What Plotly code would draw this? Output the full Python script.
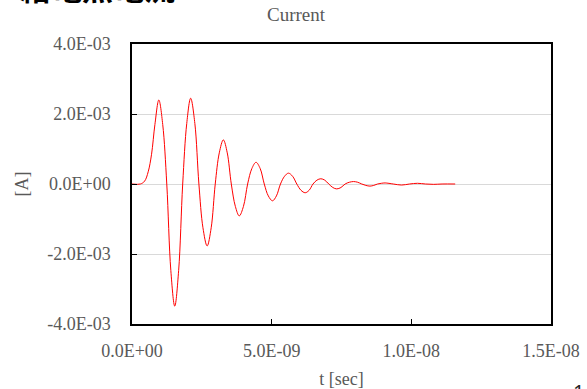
import plotly.graph_objects as go

# Feed-point current waveform (time in ns, current in mA)
t_ns = [0.00, 0.30, 0.45, 0.58, 0.70, 0.82, 0.96,
        1.10, 1.245, 1.39, 1.53,
        1.67, 1.815, 1.96, 2.10,
        2.25, 2.395, 2.54, 2.69,
        2.835, 2.98, 3.125, 3.27,
        3.41, 3.555, 3.70, 3.84,
        3.99, 4.14, 4.29, 4.44,
        4.59, 4.735, 4.88, 5.03,
        5.17, 5.315, 5.46, 5.60,
        5.75, 5.90, 6.05, 6.20,
        6.34, 6.48, 6.62, 6.76,
        6.90, 7.045, 7.19, 7.33,
        7.48, 7.63, 7.78, 7.93,
        8.08, 8.225, 8.37, 8.52,
        8.655, 8.79, 8.925, 9.06,
        9.355, 9.65, 9.935, 10.22, 10.51, 10.80, 11.10, 11.57]
current_mA = [0.00, 0.00, 0.08, 0.35, 0.85, 1.70, 2.40,
              1.70, 0.00, -2.47, -3.49,
              -2.47, 0.00, 1.73, 2.45,
              1.73, 0.00, -1.25, -1.77,
              -1.25, 0.00, 0.89, 1.26,
              0.89, 0.00, -0.64, -0.91,
              -0.64, 0.00, 0.44, 0.62,
              0.44, 0.00, -0.34, -0.48,
              -0.34, 0.00, 0.22, 0.31,
              0.22, 0.00, -0.18, -0.25,
              -0.18, 0.00, 0.11, 0.15,
              0.11, 0.00, -0.10, -0.14,
              -0.10, 0.00, 0.05, 0.07,
              0.05, 0.00, -0.04, -0.06,
              -0.04, 0.00, 0.02, 0.03,
              0.00, -0.03, 0.00, 0.02, 0.00, -0.01, 0.00, 0.00]

x_ticks = [0.0, 5.0e-9, 1.0e-8, 1.5e-8]
x_tick_text = ["0.0E+00", "5.0E-09", "1.0E-08", "1.5E-08"]
y_ticks = [-4.0e-3, -2.0e-3, 0.0, 2.0e-3, 4.0e-3]
y_tick_text = ["-4.0E-03", "-2.0E-03", "0.0E+00", "2.0E-03", "4.0E-03"]

t_sec = [v * 1e-9 for v in t_ns]
current_A = [v * 1e-3 for v in current_mA]

SERIF = "Liberation Serif, Times New Roman, serif"
GRAY = "#595959"

fig = go.Figure()
fig.add_trace(go.Scatter(
    x=t_sec, y=current_A, mode="lines",
    line=dict(color="#ff0000", width=1, shape="spline", smoothing=1.0),
    showlegend=False, hoverinfo="skip",
))

W, H = 587, 389
L, R, T, B = 132, 36, 44, 65
pw, ph = W - L - R, H - T - B


def px_x(x):
    return (x - L) / pw


def px_y(y):
    return 1 - (y - T) / ph


fig.update_layout(
    width=W, height=H,
    margin=dict(l=L, r=R, t=T, b=B),
    paper_bgcolor="white", plot_bgcolor="white",
    title=dict(text="Current", x=296 / W, xref="container", xanchor="center",
               y=1 - 14 / H, yref="container", yanchor="middle",
               font=dict(family=SERIF, size=19, color=GRAY)),
    xaxis=dict(range=[0, 1.5e-8], tickvals=x_ticks, ticktext=x_tick_text,
               showgrid=False, zeroline=False, automargin=False,
               showline=True, linecolor="black", linewidth=1.5, mirror=True,
               ticks="inside", ticklen=5, tickcolor="black",
               ticklabelstandoff=10,
               tickfont=dict(family=SERIF, size=18, color=GRAY),
               title=dict(text="t [sec]", standoff=12,
                          font=dict(family=SERIF, size=18, color=GRAY))),
    yaxis=dict(range=[-4.0e-3, 4.0e-3], tickvals=y_ticks, ticktext=y_tick_text,
               showgrid=True, gridcolor="#d9d9d9", gridwidth=1,
               zeroline=False, automargin=False,
               showline=True, linecolor="black", linewidth=1.5, mirror=True,
               ticks="inside", ticklen=5, tickcolor="black",
               ticklabelstandoff=16,
               tickfont=dict(family=SERIF, size=18, color=GRAY),
               title=dict(text="[A]", standoff=14,
                          font=dict(family=SERIF, size=18, color=GRAY))),
    annotations=[
        dict(text="<b>給電点電流</b>", xref="paper", yref="paper",
             x=px_x(18), y=px_y(11), xanchor="left", yanchor="bottom",
             showarrow=False,
             font=dict(family="Noto Sans CJK JP", size=31, color="black")),
        dict(text="14", xref="paper", yref="paper",
             x=px_x(571), y=px_y(376), xanchor="left", yanchor="top",
             showarrow=False,
             font=dict(family="Noto Sans, sans-serif", size=20, color="#222222")),
    ],
)

fig.write_html("out.html")
